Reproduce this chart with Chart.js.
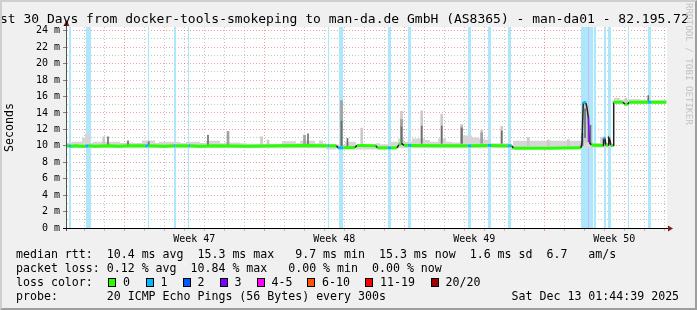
<!DOCTYPE html>
<html><head><meta charset="utf-8">
<script src="https://cdn.jsdelivr.net/npm/chart.js@4.4.1/dist/chart.umd.min.js"></script>
<style>
html,body{margin:0;padding:0;background:#f0f0f0;}
#wrap{position:relative;width:697px;height:310px;overflow:hidden;background:#f0f0f0;font-family:'DejaVu Sans Mono',monospace;}
#c{position:absolute;left:0;top:0;}
.t{position:absolute;white-space:pre;color:#000;}
#title{left:-15.65px;top:12px;font-size:13px;line-height:13px;}
#wm{position:absolute;left:684px;top:3px;font-size:9.2px;line-height:10px;color:#c2c2c2;writing-mode:vertical-rl;white-space:pre;}
.lg{left:16px;font-size:11.6px;line-height:14px;}
.sw{position:absolute;width:6px;height:7px;border:1px solid #000;}
.sl{position:absolute;white-space:pre;font-size:11.6px;line-height:14px;}
#frame{position:absolute;left:0;top:0;width:697px;height:310px;box-sizing:border-box;border-top:2px solid #cfcfcf;border-left:2px solid #cfcfcf;border-right:2px solid #9e9e9e;border-bottom:2px solid #9e9e9e;pointer-events:none;}
</style></head>
<body>
<div id="wrap">
<canvas id="c" width="697" height="310"></canvas>
<div class="t" id="title">Last 30 Days from docker-tools-smokeping to man-da.de GmbH (AS8365) - man-da01 - 82.195.72</div>
<div id="wm">RRDTOOL / TOBI OETIKER</div>
<div class="t lg" style="top:247px">median rtt:  10.4 ms avg  15.3 ms max   9.7 ms min  15.3 ms now  1.6 ms sd  6.7   am/s</div>
<div class="t lg" style="top:261px">packet loss: 0.12 % avg  10.84 % max   0.00 % min  0.00 % now</div>
<div class="t lg" style="top:275px">loss color:</div>
<div id="sws"></div>
<div class="t lg" style="top:289px">probe:       20 ICMP Echo Pings (56 Bytes) every 300s                  Sat Dec 13 01:44:39 2025</div>
<div id="frame"></div>
</div>
<script>
// ---------------- data ----------------
const Y_MAX = 24.45;
const weekLabels = ['Week 47', 'Week 48', 'Week 49', 'Week 50'];
const weekStarts = [2.865, 9.865, 16.865, 23.865];   // days from left edge
const firstDayLine = 0.865;

const lossLabels = ['0', '1', '2', '3', '4-5', '6-10', '11-19', '20/20'];
const lossColors = ['#26ff00', '#00b8ff', '#0059ff', '#7e00ff', '#ff00ff', '#ff5500', '#ff0000', '#a10000'];

// median rtt (ms) -- time in days, value, loss class
const medT = [0, 0.1, 0.2, 0.45, 0.65, 0.915, 1.085, 1.4, 2.15, 2.55, 3.15, 3.915, 4.085, 4.9, 5.335, 5.415, 6.085, 6.165, 6.65, 7.4,
  9.15, 10.65, 12.0, 12.65, 13.035, 13.115, 13.475, 13.55, 13.825, 14.4, 14.5, 15.45, 15.525, 16.035, 16.2, 16.5, 16.6, 16.725, 16.85,
  17.035, 17.2, 18.65, 20.035, 20.2, 21.035, 21.2, 21.65, 22.035, 22.2, 22.25, 22.325, 24.15, 25.7, 25.75, 25.815, 25.95, 26.0,
  26.065, 26.125, 26.225, 26.8, 26.825, 26.9, 26.95, 27.05, 27.085, 27.15, 27.2, 27.3, 27.335, 27.8, 27.9, 28.035, 28.1, 29.05, 29.2, 29.95];
const medV = [10.0, 10.0, 9.95, 10.0, 9.95, 9.95, 10.0, 9.95, 10.0, 9.95, 10.0, 10.0, 10.0, 9.95, 10.0, 10.0, 10.0, 10.0, 9.95, 10.0,
  9.95, 10.0, 10.05, 10.0, 10.0, 10.0, 10.0, 9.75, 9.75, 9.8, 10.05, 10.0, 9.75, 9.75, 9.75, 9.75, 10.15, 10.3, 10.05,
  10.05, 10.05, 10.0, 10.0, 10.0, 10.05, 10.05, 10.0, 10.0, 10.0, 10.0, 9.7, 9.7, 9.75, 10.4, 15.3, 15.2, 14.6,
  13.5, 10.4, 10.1, 10.05, 10.95, 10.85, 10.05, 10.1, 10.9, 10.6, 10.05, 10.05, 15.3, 15.3, 15.05, 15.05, 15.3, 15.3, 15.3, 15.3];
const medLoss = [0, 1, 0, 0, 0, 1, 0, 0, 0, 0, 0, 1, 0, 0, 1, 0, 1, 0, 0, 0,
  0, 0, 0, 0, 1, 0, 0, 1, 0, 0, 0, 0, 0, 1, 0, 0, 0, 0, 0,
  1, 0, 0, 1, 0, 1, 0, 0, 1, 0, 0, 0, 0, 0, 1, 1, 1, 0,
  3, 1, 0, 0, 1, 1, 0, 0, 1, 1, 0, 0, 0, 0, 0, 1, 0, 1, 0, 0];

// smoke band (ms)
const smT = [0, 0.25, 0.75, 0.9, 1.15, 1.3, 2.65, 2.95, 3.3, 3.75, 4.4, 4.6, 5.65, 5.95, 6.65, 6.95, 7.65, 7.85, 8.65, 8.95,
  10.75, 11.45, 11.65, 12.4, 12.6, 12.8, 12.95, 13.45, 13.9, 14.45, 15.45, 15.65, 16.15, 16.55, 16.85, 17.25, 17.9, 18.15,
  18.55, 18.95, 19.25, 19.65, 20.25, 20.6, 20.85, 21.15, 22.2, 22.3, 25.7, 25.8, 26.25, 26.65, 26.8, 27.25, 27.35, 27.65,
  28.05, 28.65, 29.05, 29.2, 30];
const smLo = [9.7, 9.7, 9.7, 9.7, 9.7, 9.7, 9.7, 9.7, 9.7, 9.7, 9.7, 9.7, 9.7, 9.7, 9.7, 9.7, 9.7, 9.7, 9.7, 9.7,
  9.7, 9.7, 9.7, 9.7, 9.7, 9.7, 9.7, 9.55, 9.6, 9.7, 9.55, 9.55, 9.55, 9.7, 9.7, 9.7, 9.7, 9.7,
  9.7, 9.7, 9.7, 9.7, 9.7, 9.7, 9.7, 9.7, 9.7, 9.5, 9.6, 9.9, 9.8, 9.8, 9.8, 9.8, 15.1, 15.1,
  15.1, 15.1, 15.1, 15.1, 15.1];
const smHi = [10.75, 10.4, 10.5, 11.0, 11.45, 10.35, 10.5, 10.35, 10.4, 10.35, 10.65, 10.35, 10.5, 10.35, 10.5, 10.35, 10.6, 10.3, 10.4, 10.3,
  10.25, 10.55, 10.3, 10.6, 10.3, 10.65, 10.3, 10.2, 10.15, 10.5, 10.1, 10.3, 10.2, 10.5, 10.9, 10.5, 10.9, 10.7,
  10.5, 10.9, 10.5, 10.4, 11.25, 11.0, 10.85, 10.75, 10.3, 10.0, 10.6, 10.5, 10.5, 10.3, 11.1, 10.3, 15.5, 15.8,
  15.6, 15.7, 15.6, 15.55, 15.55];

// smoke spikes: light, medium, dark
const liT = [1.835, 9.725, 10.05, 14.735, 16.725, 17.735, 18.735, 19.735, 20.735, 21.735, 23.065, 24.065, 25.065, 25.9, 26.05, 26.875, 27.125, 27.95];
const liLo = [10.1, 10.1, 10.1, 10.2, 10.3, 10.3, 10.3, 10.3, 10.3, 10.3, 10.0, 10.0, 10.0, 10.4, 10.4, 10.1, 10.1, 15.3];
const liHi = [11.1, 11.1, 10.7, 12.15, 14.2, 14.25, 13.85, 12.6, 11.9, 12.35, 11.0, 10.7, 10.75, 15.4, 14.7, 11.1, 11.1, 15.8];
const miT = [8.05, 11.875, 13.725, 16.725, 19.735, 20.735];
const miLo = [10.1, 10.1, 10.0, 10.3, 10.3, 10.3];
const miHi = [11.75, 11.3, 15.5, 13.2, 12.3, 11.6];
const dkT = [2.05, 3.05, 4.085, 7.05, 12.05, 13.725, 14.025, 16.725, 17.735, 18.735, 19.735, 21.735, 25.775, 25.9, 26.075, 26.175, 26.875, 27.125, 29.065];
const dkLo = [10.1, 10.1, 10.1, 10.1, 10.1, 10.0, 10.0, 10.3, 10.3, 10.3, 10.3, 10.3, 10.0, 11.0, 10.5, 10.2, 10.3, 10.3, 15.3];
const dkHi = [11.1, 10.6, 10.5, 11.3, 11.45, 13.0, 10.9, 12.3, 12.4, 12.4, 12.1, 11.8, 11.5, 14.5, 13.5, 12.5, 11.0, 11.0, 16.1];

// loss background periods (days)
const bandStart = [0.1, 0.95, 4.035, 5.35, 6.035, 13.035, 13.6, 16.035, 17.035, 20.035, 21.035, 22.035, 25.7, 26.1, 26.325, 26.85, 27.035, 28.035, 29.035];
const bandEnd = [0.2, 1.2, 4.115, 5.45, 6.115, 13.115, 13.815, 16.2, 17.2, 20.2, 21.2, 22.2, 26.05, 26.3, 26.45, 26.95, 27.2, 28.1, 29.2];
const band3Start = [26.05];
const band3End = [26.1];

// ---------------- build ----------------
const swatchX = [108, 145.5, 182.5, 219.5, 256.5, 307, 365, 430.5];
const sws = document.getElementById('sws');
lossLabels.forEach((lab, i) => {
  const b = document.createElement('div');
  b.className = 'sw'; b.style.left = swatchX[i] + 'px'; b.style.top = '278px'; b.style.background = lossColors[i];
  sws.appendChild(b);
  const s = document.createElement('div');
  s.className = 'sl'; s.style.left = (swatchX[i] + 15) + 'px'; s.style.top = '275px'; s.textContent = lab;
  sws.appendChild(s);
});

const pts = (t, v) => t.map((x, i) => ({x, y: v[i]}));
const rng = (t, lo, hi) => t.map((x, i) => ({x, y: [lo[i], hi[i]]}));
const bandPts = (s, e) => s.flatMap((x, i) => [{x, y: Y_MAX}, {x: e[i], y: Y_MAX}, {x: e[i], y: null}]);

const xTicks = [];
for (let k = 0; k < 30; k++) {
  const v = +(firstDayLine + k).toFixed(3);
  xTicks.push({value: v, kind: weekStarts.some(w => Math.abs(w - v) < 1e-6) ? 'week' : 'day'});
}
weekStarts.forEach((w, i) => xTicks.push({value: w + 3.5, kind: 'label', text: weekLabels[i]}));
xTicks.sort((a, b) => a.value - b.value);
const yTicks = [];
for (let v = 0; v <= 24; v++) yTicks.push({value: v});

const RED = 'rgba(230,80,80,0.55)';
const GRAY = 'rgba(140,140,140,0.5)';
const FONT = 'DejaVu Sans Mono';

function xGridColor(c) {
  const t = c.tick; if (!t) return 'transparent';
  return t.kind === 'week' ? RED : (t.kind === 'day' ? GRAY : 'transparent');
}
function isJump(i) { return Math.abs(medV[i + 1] - medV[i]) >= 0.2; }
function segColor(ctx) {
  const i = ctx.p0DataIndex;
  const L = medLoss[i];
  if (L >= 2) return lossColors[L];
  if (isJump(i)) return '#202020';
  return lossColors[L];
}
function segWidth(ctx) {
  return isJump(ctx.p0DataIndex) ? 1.5 : 3;
}

const framePlugin = {
  id: 'framePlugin',
  beforeDraw(chart) {
    const {ctx, chartArea: a} = chart;
    ctx.save(); ctx.fillStyle = '#ffffff';
    ctx.fillRect(a.left, a.top, a.right - a.left, a.bottom - a.top);
    ctx.restore();
  },
  afterDatasetsDraw(chart) {
    const {ctx, chartArea: a} = chart;
    ctx.save();
    ctx.lineWidth = 1;
    ctx.strokeStyle = '#505050';
    ctx.beginPath(); ctx.moveTo(a.left - 0.5, a.bottom + 3); ctx.lineTo(a.left - 0.5, a.top - 1); ctx.stroke();
    ctx.strokeStyle = '#000000';
    ctx.beginPath(); ctx.moveTo(a.left - 4, a.bottom + 0.5); ctx.lineTo(a.right + 2, a.bottom + 0.5); ctx.stroke();
    ctx.fillStyle = '#7f1f1f';
    ctx.beginPath(); ctx.moveTo(a.right + 6, a.bottom + 0.5); ctx.lineTo(a.right + 1, a.bottom - 2.5); ctx.lineTo(a.right + 1, a.bottom + 3.5); ctx.closePath(); ctx.fill();
    ctx.beginPath(); ctx.moveTo(a.left - 0.5, a.top - 7); ctx.lineTo(a.left - 3.5, a.top - 1); ctx.lineTo(a.left + 2.5, a.top - 1); ctx.closePath(); ctx.fill();
    ctx.restore();
  }
};

new Chart(document.getElementById('c'), {
  type: 'line',
  data: {
    datasets: [
      {type: 'line', data: pts(medT, medV), borderColor: lossColors[0], borderWidth: 3, pointRadius: 0, tension: 0,
        borderJoinStyle: 'miter', borderCapStyle: 'butt',
        order: 0, segment: {borderColor: segColor, borderWidth: segWidth}},
      {type: 'bar', data: rng(dkT, dkLo, dkHi), backgroundColor: '#6e6e6e', barThickness: 1, grouped: false, order: 1},
      {type: 'bar', data: rng(miT, miLo, miHi), backgroundColor: '#a0a0a0', barThickness: 2, grouped: false, order: 2},
      {type: 'bar', data: rng(liT, liLo, liHi), backgroundColor: '#cacaca', barThickness: 2, grouped: false, order: 3},
      {type: 'line', data: pts(smT, smLo), borderWidth: 0, pointRadius: 0, stepped: 'after', fill: false, order: 5},
      {type: 'line', data: pts(smT, smHi), borderWidth: 0, pointRadius: 0, stepped: 'after', fill: 4,
        backgroundColor: '#d6d6d6', order: 4},
      {type: 'line', data: bandPts(bandStart, bandEnd), borderWidth: 0, pointRadius: 0, spanGaps: false, fill: 'origin',
        backgroundColor: '#aee6fa', order: 6},
      {type: 'line', data: bandPts(band3Start, band3End), borderWidth: 0, pointRadius: 0, spanGaps: false, fill: 'origin',
        backgroundColor: '#d2b4fc', order: 6}
    ]
  },
  options: {
    responsive: false, animation: false, devicePixelRatio: 1, events: [],
    layout: {padding: {left: 0, top: 27, right: 30, bottom: 62}},
    plugins: {legend: {display: false}, tooltip: {enabled: false}, title: {display: false}},
    scales: {
      x: {
        type: 'linear', min: 0, max: 30, offset: false,
        afterBuildTicks: s => { s.ticks = xTicks.map(t => Object.assign({}, t)); },
        afterFit: s => { s.height = 20; },
        ticks: {autoSkip: false, maxRotation: 0, minRotation: 0, padding: 2, color: '#000',
          font: {family: FONT, size: 10},
          callback: (v, i, ts) => (ts[i] && ts[i].kind === 'label') ? ts[i].text : ''},
        grid: {color: xGridColor, tickColor: xGridColor, lineWidth: 1, drawTicks: true, tickLength: 3, offset: false},
        border: {display: false, dash: [1, 2]}
      },
      y: {
        type: 'linear', min: 0, max: Y_MAX,
        afterBuildTicks: s => { s.ticks = yTicks.map(t => Object.assign({}, t)); },
        afterFit: s => { s.width = 67; },
        ticks: {autoSkip: false, padding: 3, color: '#000', font: {family: FONT, size: 10},
          callback: v => (v % 2 === 0 ? v + ' m' : '')},
        grid: {color: c => (c.tick && c.tick.value % 2 === 0) ? RED : GRAY,
          tickColor: c => (c.tick && c.tick.value % 2 === 0) ? '#808080' : 'transparent',
          tickLength: 4, lineWidth: 1},
        border: {display: false, dash: [1, 2]},
        title: {display: true, text: 'Seconds', color: '#000', font: {family: FONT, size: 11.6}, padding: {top: 3, bottom: 0}}
      }
    }
  },
  plugins: [framePlugin]
});
</script>
</body></html>
